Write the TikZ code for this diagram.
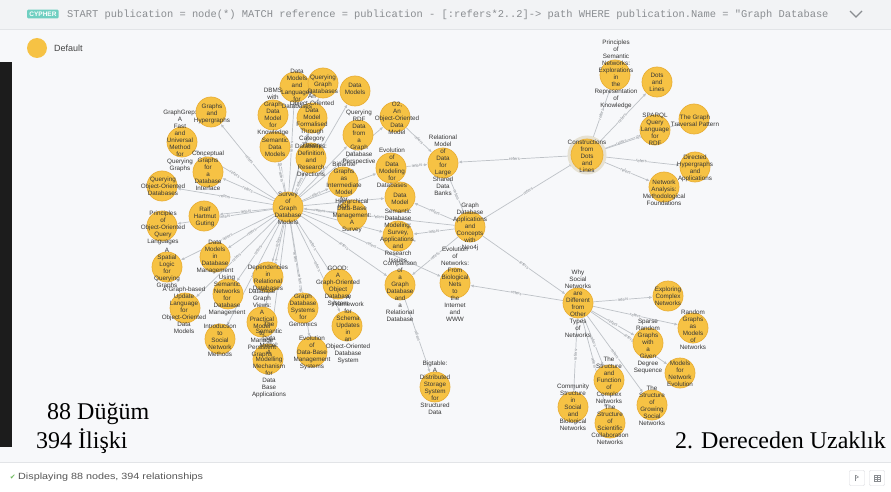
\documentclass[tikz,border=0pt]{standalone}
\usepackage{fontspec}
\setmainfont{Liberation Sans}
\newfontfamily\bigserif{Liberation Serif}
\newfontfamily\monof{Liberation Mono}
\newfontfamily\dejavu{DejaVu Sans}
\usetikzlibrary{arrows.meta}
\pgfdeclarelayer{bgl}\pgfdeclarelayer{edges}\pgfdeclarelayer{fg}
\pgfsetlayers{bgl,edges,main,fg}
\definecolor{bgmain}{HTML}{F7F8FA}
\definecolor{bgtop}{HTML}{F2F3F5}
\definecolor{sepc}{HTML}{E2E4E7}
\definecolor{nodefill}{HTML}{F6C244}
\definecolor{nodedraw}{HTML}{E9AF37}
\definecolor{edgec}{HTML}{BEC2C7}
\definecolor{reflab}{HTML}{868B91}
\definecolor{labc}{HTML}{363636}
\definecolor{cyphc}{HTML}{6FCFC1}
\definecolor{qc}{HTML}{8A8D91}
\definecolor{legc}{HTML}{444444}
\definecolor{stc}{HTML}{555555}
\definecolor{okgreen}{HTML}{6CB85C}
\definecolor{btnc}{HTML}{D8DADD}
\definecolor{darkstrip}{HTML}{1C1C1C}
\definecolor{haloc}{HTML}{E6E1D2}
\tikzset{
  pubc/.style={circle, fill=nodefill, draw=nodedraw, line width=0.7pt, minimum size=30pt, inner sep=0pt},
  pubt/.style={align=center, inner sep=0pt, text=labc, font=\fontsize{6.3}{7}\selectfont},
  edge/.style={draw=edgec, line width=0.7pt, -{Latex[length=3.6pt,width=3pt]}},
  rlab/.style={sloped, midway, fill=bgmain, inner sep=0.4pt, text=reflab, font=\fontsize{4.2}{4.5}\selectfont},
  bigtxt/.style={anchor=base west, inner sep=0pt, font=\bigserif\fontsize{24}{26}\selectfont},
}
\newcommand{\pub}[7][]{\node[pubc,#1] (#2) at (#3,#4) {};\begin{pgfonlayer}{fg}\node[pubt] (#2t) at (#5,#6) {#7};\end{pgfonlayer}}
\newcommand{\refe}[2]{\draw[edge] (#1) -- node[rlab]{refers} (#2);}
\begin{document}
\begin{tikzpicture}[x=1pt,y=-1pt]
\useasboundingbox (0,0) rectangle (891,492);
\begin{pgfonlayer}{bgl}
\fill[bgmain] (0,0) rectangle (891,462);
\fill[bgtop] (0,0) rectangle (891,29);
\draw[sepc] (0,29) -- (891,29);
\fill[white] (0,462) rectangle (891,492);
\draw[sepc] (0,462) -- (891,462);
\fill[darkstrip] (0,62) rectangle (12,447);
\end{pgfonlayer}

% header
\node[anchor=west, fill=cyphc, text=white, font=\fontsize{6.5}{7}\selectfont\bfseries, inner xsep=2.2pt, inner ysep=2pt, rounded corners=1pt] (cypher) at (27,14) {CYPHER};
\node[anchor=west, text=qc, font=\monof\fontsize{10.4}{11}\selectfont, inner sep=0pt] (query) at (67,14.5) {START publication = node(*) MATCH reference = publication - [:refers*2..2]-> path WHERE publication.Name = "Graph Database};
\draw[qc, line width=1.1pt] (850,11) -- (856,17) -- (862,11);

% legend
\node[circle, fill=nodefill, minimum size=20pt, inner sep=0pt] (legdot) at (37,48) {};
\node[anchor=west, font=\fontsize{9}{10}\selectfont, text=legc, inner sep=0pt] (legtxt) at (54,48) {Default};

% nodes
\pub{gh}{211}{112}{212}{114}{Graphs\\and\\Hypergraphs}
\pub{gg}{182}{142}{180}{141}{GraphGrep:\\A\\Fast\\and\\Universal\\Method\\for\\Querying\\Graphs}
\pub{cg}{208}{172}{208}{171}{Conceptual\\Graphs\\for\\a\\Database\\Interface}
\pub{qoo}{162}{186}{163}{186}{Querying\\Object-Oriented\\Databases}
\pub{rg}{204}{216}{205}{217}{Ralf\\Hartmut\\Guting}
\pub{poo}{162}{226}{163}{228}{Principles\\of\\Object-Oriented\\Query\\Languages}
\pub{sl}{167}{267}{167}{268}{A\\Spatial\\Logic\\for\\Querying\\Graphs}
\pub{gu}{185}{308}{184}{310}{A Graph-based\\Update\\Language\\for\\Object-Oriented\\Data\\Models}
\pub{dmdm}{215}{257}{215}{257}{Data\\Models\\in\\Database\\Management}
\pub{usn}{228}{294}{227}{295}{Using\\Semantic\\Networks\\for\\Database\\Management}
\pub{isn}{220}{339}{220}{340}{Introduction\\to\\Social\\Network\\Methods}
\pub{sgdm}{288}{207}{288}{208}{Survey\\of\\Graph\\Database\\Models}
\pub{drd}{268}{277}{268}{278}{Dependencies\\in\\Relational\\Databases}
\pub{dgv}{262}{322}{262}{323}{Database\\Graph\\Views:\\A\\Practical\\Model\\to\\Manage\\Persistent\\Graphs}
\pub{sdm}{268}{359}{269}{360}{The\\Semantic\\Data\\Model:\\A\\Modelling\\Mechanism\\for\\Data\\Base\\Applications}
\pub{gdsg}{303}{308}{303}{310}{Graph\\Database\\Systems\\for\\Genomics}
\pub{edbms}{312}{352}{312}{353}{Evolution\\of\\Data-Base\\Management\\Systems}
\pub{good}{338}{284}{338}{286}{GOOD:\\A\\Graph-Oriented\\Object\\Database\\System}
\pub{fsu}{347}{326}{348}{329}{A\\Framework\\for\\Schema\\Updates\\in\\an\\Object-Oriented\\Database\\System}
\pub{dml}{295}{87}{297}{89}{Data\\Models\\and\\Languages\\for\\Databases}
\pub{qgd}{323}{83}{323}{84}{Querying\\Graph\\Databases}
\pub{dm}{355}{91}{355}{89}{Data\\Models}
\pub{dbms}{273}{115}{273}{112}{DBMS\\with\\Graph\\Data\\Model\\for\\Knowledge}
\pub{oodm}{312}{118}{312}{121}{An\\Object-Oriented\\Data\\Model\\Formalised\\Through\\Category\\Theory}
\pub{sdms}{275}{147}{275}{147}{Semantic\\Data\\Models}
\pub{ddrd}{311}{158}{311}{160}{Databases:\\Definition\\and\\Research\\Directions}
\pub{qrdf}{358}{135}{359}{137}{Querying\\RDF\\Data\\from\\a\\Graph\\Database\\Perspective}
\pub{o2}{395}{117}{397}{118}{O2,\\An\\Object-Oriented\\Data\\Model}
\pub{bip}{343}{182}{344}{185}{Bipartite\\Graphs\\as\\Intermediate\\Model\\for\\RDF}
\pub{edmd}{391}{168}{392}{168}{Evolution\\of\\Data\\Modeling\\for\\Databases}
\pub{hdbm}{352}{215}{352}{216}{Hierarchical\\Data-Base\\Management:\\A\\Survey}
\pub{gdm}{400}{197}{400}{199}{Data\\Model}
\pub{sdbm}{398}{236}{398}{236}{Semantic\\Database\\Modeling:\\Survey,\\Applications,\\and\\Research\\Issues}
\pub{rmd}{443}{163}{443}{165}{Relational\\Model\\of\\Data\\for\\Large\\Shared\\Data\\Banks}
\pub{neo}{470}{227}{470}{227}{Graph\\Database\\Applications\\and\\Concepts\\with\\Neo4j}
\pub{cgr}{400}{285}{400}{291}{Comparison\\of\\a\\Graph\\Database\\and\\a\\Relational\\Database}
\pub{evn}{455}{283}{455}{284}{Evolution\\of\\Networks:\\From\\Biological\\Nets\\to\\the\\Internet\\and\\WWW}
\pub{bt}{435}{387}{435}{388}{Bigtable:\\A\\Distributed\\Storage\\System\\for\\Structured\\Data}
\fill[haloc] (587,155) circle (19.5);
\pub[minimum size=32pt]{cdl}{587}{155}{587}{156}{Constructions\\from\\Dots\\and\\Lines}
\pub{psn}{615}{75}{616}{74}{Principles\\of\\Semantic\\Networks:\\Explorations\\in\\the\\Representation\\of\\Knowledge}
\pub{dal}{657}{82}{657}{82}{Dots\\and\\Lines}
\pub{sparql}{655}{130}{655}{129}{SPARQL\\Query\\Language\\for\\RDF}
\pub{tgt}{694}{119}{695}{121}{The Graph\\Traversal Pattern}
\pub{dha}{695}{167}{695}{168}{Directed\\Hypergraphs\\and\\Applications}
\pub{nam}{664}{187}{664}{193}{Network\\Analysis:\\Methodological\\Foundations}
\pub{wsn}{578}{303}{578}{304}{Why\\Social\\Networks\\are\\Different\\from\\Other\\Types\\of\\Networks}
\pub{ecn}{668}{296}{668}{296}{Exploring\\Complex\\Networks}
\pub{rgm}{693}{328}{693}{330}{Random\\Graphs\\as\\Models\\of\\Networks}
\pub{srg}{648}{343}{648}{346}{Sparse\\Random\\Graphs\\with\\a\\Given\\Degree\\Sequence}
\pub{mne}{680}{373}{680}{374}{Models\\for\\Network\\Evolution}
\pub{sfcn}{609}{380}{609}{380}{The\\Structure\\and\\Function\\of\\Complex\\Networks}
\pub{csbn}{573}{407}{573}{407}{Community\\Structure\\in\\Social\\and\\Biological\\Networks}
\pub{sscn}{610}{423}{610}{425}{The\\Structure\\of\\Scientific\\Collaboration\\Networks}
\pub{sgsn}{652}{405}{652}{406}{The\\Structure\\of\\Growing\\Social\\Networks}

% edges
\begin{pgfonlayer}{edges}
\foreach \t in {gh,gg,cg,qoo,rg,poo,sl,gu,dmdm,usn,isn,drd,dgv,sdm,gdsg,edbms,good,fsu,dml,qgd,dm,dbms,oodm,sdms,ddrd,qrdf,o2,bip,edmd,hdbm,gdm,sdbm,cgr,evn}
  {\refe{sgdm}{\t}}
\foreach \t in {sgdm,rmd,gdm,sdbm,cgr,cdl,wsn}
  {\refe{neo}{\t}}
\refe{edmd}{rmd}
\refe{o2}{rmd}
\foreach \t in {rmd,psn,dal,sparql,tgt,dha,nam}
  {\refe{cdl}{\t}}
\foreach \t in {evn,ecn,rgm,srg,mne,sfcn,csbn,sscn,sgsn}
  {\refe{wsn}{\t}}
\refe{cgr}{bt}
\end{pgfonlayer}

% big annotations
\node[bigtxt] (cnt) at (47,419) {88 Düğüm};
\node[bigtxt] (rel) at (36,448) {394 İlişki};
\node[bigtxt] (deg) at (675,448) {2. Dereceden Uzaklık};

% status bar
\node[anchor=west, font=\fontsize{9}{10}\selectfont, text=stc, inner sep=0pt] (status) at (18,477) {\scalebox{1.2}[1]{Displaying 88 nodes, 394 relationships}};
\node[anchor=east, text=okgreen, font=\dejavu\fontsize{7}{7}\selectfont, inner sep=0pt] (chk) at ([xshift=-2pt]status.west) {✔};
\node[draw=btnc, fill=white, minimum size=15pt, inner sep=0pt, rounded corners=1pt] (btn1) at (857,478) {};
\node[draw=btnc, fill=white, minimum size=15pt, inner sep=0pt, rounded corners=1pt] (btn2) at (877,478) {};
\draw[qc, line width=0.5pt] ([xshift=-1.5pt,yshift=-3pt]btn1.center) -- ([xshift=-1.5pt,yshift=3pt]btn1.center);
\draw[qc, line width=0.5pt] ([xshift=-1.5pt,yshift=3pt]btn1.center) -- ([xshift=1.5pt,yshift=1pt]btn1.center) -- ([xshift=-1.5pt,yshift=-0.5pt]btn1.center);
\draw[qc, line width=0.4pt] ([xshift=-3pt,yshift=-3pt]btn2.center) rectangle ([xshift=3pt,yshift=3pt]btn2.center);
\draw[qc, line width=0.4pt] ([xshift=-3pt,yshift=-1pt]btn2.center) -- ([xshift=3pt,yshift=-1pt]btn2.center);
\draw[qc, line width=0.4pt] ([xshift=-3pt,yshift=1pt]btn2.center) -- ([xshift=3pt,yshift=1pt]btn2.center);
\draw[qc, line width=0.4pt] ([xshift=0pt,yshift=-3pt]btn2.center) -- ([xshift=0pt,yshift=3pt]btn2.center);
\end{tikzpicture}
\end{document}
